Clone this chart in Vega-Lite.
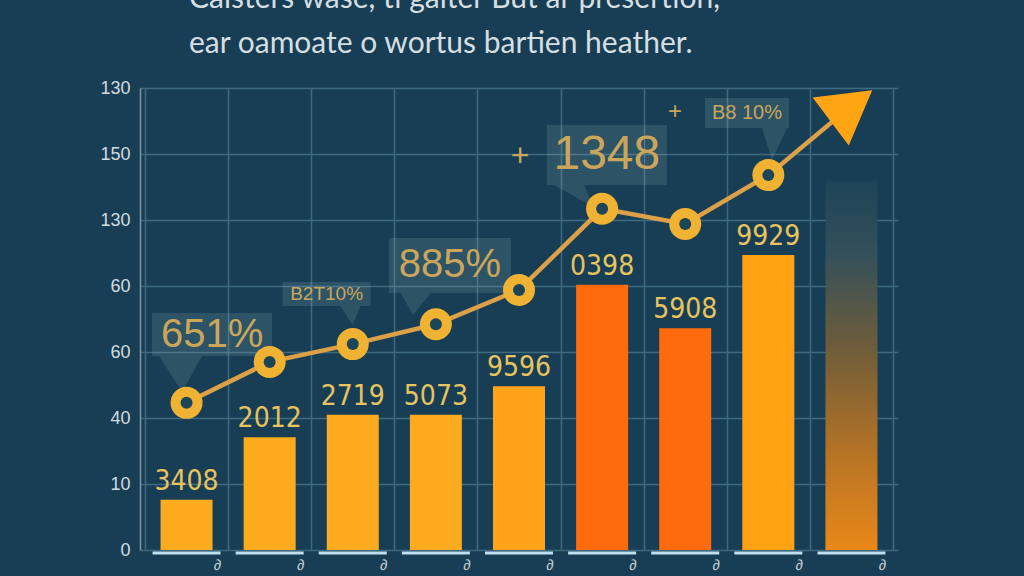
{
  "$schema": "https://vega.github.io/schema/vega-lite/v6.json",
  "width": 758,
  "height": 462,
  "autosize": {"type": "none"},
  "padding": {"left": 140, "top": 88, "right": 126, "bottom": 26},
  "background": "#173E54",
  "config": {"view": {"stroke": null}, "font": "Liberation Sans"},
  "title": {
    "text": ["Calsters wase, ti galter But ar presertion,", "ear oamoate o wortus bartien heather."],
    "anchor": "start",
    "frame": "group",
    "dx": 49,
    "offset": 20,
    "font": "Lato",
    "fontSize": 30,
    "fontWeight": "normal",
    "lineHeight": 45,
    "color": "#D6DEE2"
  },
  "datasets": {
    "bars": [
      {"cat": 1, "value": 0.76, "label": "3408"},
      {"cat": 2, "value": 1.71, "label": "2012"},
      {"cat": 3, "value": 2.05, "label": "2719"},
      {"cat": 4, "value": 2.05, "label": "5073"},
      {"cat": 5, "value": 2.48, "label": "9596"},
      {"cat": 6, "value": 4.02, "label": "0398"},
      {"cat": 7, "value": 3.36, "label": "5908"},
      {"cat": 8, "value": 4.47, "label": "9929"},
      {"cat": 9, "value": 5.6, "label": ""}
    ],
    "line": [
      {"cat": 1, "value": 2.23},
      {"cat": 2, "value": 2.85},
      {"cat": 3, "value": 3.12},
      {"cat": 4, "value": 3.42},
      {"cat": 5, "value": 3.94},
      {"cat": 6, "value": 5.17},
      {"cat": 7, "value": 4.94},
      {"cat": 8, "value": 5.68},
      {"cat": 9, "value": 6.73}
    ],
    "notes": [
      {"id": "A", "cat": 1.307, "value": 3.265, "label": "651%"},
      {"id": "B", "cat": 2.685, "value": 3.879, "label": "B2T10%"},
      {"id": "C", "cat": 4.169, "value": 4.311, "label": "885%"},
      {"id": "D", "cat": 6.057, "value": 5.985, "label": "1348"},
      {"id": "E", "cat": 7.743, "value": 6.621, "label": "B8 10%"},
      {"id": "D+", "cat": 5.012, "value": 5.97, "label": "+"},
      {"id": "E+", "cat": 6.876, "value": 6.636, "label": "+"}
    ]
  },
  "encoding": {
    "x": {
      "field": "cat",
      "type": "quantitative",
      "scale": {"domain": [0.5, 9.5], "nice": false, "zero": false},
      "axis": {
        "values": [0.5, 1.5, 2.5, 3.5, 4.5, 5.5, 6.5, 7.5, 8.5, 9.5],
        "title": null,
        "grid": true,
        "gridColor": "#3E6A7E",
        "gridWidth": 1.5,
        "domain": false,
        "ticks": false,
        "labelExpr": "datum.value < 9 ? '∂' : ''",
        "labelOffset": 72,
        "labelPadding": 7,
        "labelFontSize": 15,
        "labelColor": "#C4CDD2",
        "labelOverlap": false,
        "labelBound": false,
        "labelFlush": false
      }
    },
    "y": {
      "field": "value",
      "type": "quantitative",
      "scale": {"domain": [0, 7], "nice": false},
      "axis": {
        "values": [0, 1, 2, 3, 4, 5, 6, 7],
        "labelExpr": "['0','10','40','60','60','130','150','130'][datum.value]",
        "title": null,
        "grid": true,
        "gridColor": "#3E6A7E",
        "gridWidth": 1.5,
        "domainColor": "#7D96A2",
        "domainWidth": 1.5,
        "ticks": false,
        "labelPadding": 10,
        "labelFontSize": 18,
        "labelColor": "#D3DBDF"
      }
    }
  },
  "layer": [
    {
      "data": {"name": "bars"},
      "transform": [{"filter": "datum.cat == 9"}],
      "mark": {
        "type": "bar",
        "orient": "vertical",
        "width": 52,
        "color": {
          "gradient": "linear",
          "x1": 0, "y1": 1, "x2": 0, "y2": 0,
          "stops": [
            {"offset": 0, "color": "#EA8818"},
            {"offset": 0.25, "color": "#B87424"},
            {"offset": 0.55, "color": "#6E5C3A"},
            {"offset": 0.8, "color": "#34505A"},
            {"offset": 1, "color": "#1C4458"}
          ]
        }
      }
    },
    {
      "data": {"name": "bars"},
      "transform": [{"filter": "datum.cat < 9"}],
      "mark": {"type": "bar", "orient": "vertical", "width": 52},
      "encoding": {
        "color": {
          "field": "cat",
          "type": "ordinal",
          "scale": {
            "domain": [1, 2, 3, 4, 5, 6, 7, 8],
            "range": ["#FCAA1E", "#FCAA1E", "#FCAA1E", "#FCAA1E", "#FFA41A", "#FF6B0C", "#FF6B0C", "#FFA312"]
          },
          "legend": null
        }
      }
    },
    {
      "data": {"name": "bars"},
      "mark": {"type": "tick", "orient": "horizontal", "size": 68, "thickness": 3, "color": "#BFE0F0", "opacity": 1, "yOffset": 3},
      "encoding": {"y": {"datum": 0}}
    },
    {
      "data": {"name": "notes"},
      "transform": [{"filter": "length(datum.id) == 1"}],
      "mark": {"type": "point", "filled": true, "size": 14400, "color": "#9CC0CC", "opacity": 0.17, "strokeWidth": 0},
      "encoding": {
        "shape": {
          "field": "id",
          "type": "nominal",
          "scale": {
            "domain": ["A", "B", "C", "D", "E"],
            "range": [
              "M-1,-0.358H1V0.358H-0.167L-0.5,0.958L-0.883,0.358H-1Z",
              "M-0.733,-0.2H0.733V0.2H0.567L0.433,0.517L0.233,0.2H-0.733Z",
              "M-1.017,-0.458H1.017V0.458H-0.317L-0.617,0.825L-0.817,0.458H-1.017Z",
              "M-1,-0.5H1V0.5H-0.383L-0.217,0.867L-0.883,0.5H-1Z",
              "M-0.7,-0.25H0.7V0.25H0.667L0.417,0.783L0.25,0.25H-0.7Z"
            ]
          },
          "legend": null
        }
      }
    },
    {
      "data": {"name": "notes"},
      "mark": {"type": "text", "color": "#CBA65A", "font": "Liberation Sans", "align": "center", "baseline": "middle"},
      "encoding": {
        "text": {"field": "label"},
        "size": {
          "field": "id",
          "type": "nominal",
          "scale": {"type": "ordinal", "domain": ["A", "B", "C", "D", "E", "D+", "E+"], "range": [40, 19, 40, 48, 20, 32, 24]},
          "legend": null
        }
      }
    },
    {
      "data": {"name": "bars"},
      "mark": {"type": "text", "font": "Liberation Sans Narrow, DejaVu Sans Condensed, Liberation Sans", "fontSize": 28, "color": "#E8C35E", "baseline": "alphabetic", "dy": -10},
      "encoding": {"text": {"field": "label"}}
    },
    {
      "data": {"name": "line"},
      "mark": {"type": "line", "color": "#DBA048", "strokeWidth": 4.5}
    },
    {
      "data": {"name": "line"},
      "transform": [{"filter": "datum.cat < 9"}],
      "mark": {"type": "point", "shape": "circle", "filled": true, "size": 1024, "color": "#F0B232", "opacity": 1}
    },
    {
      "data": {"name": "line"},
      "transform": [{"filter": "datum.cat < 9"}],
      "mark": {"type": "point", "shape": "circle", "filled": true, "size": 144, "color": "#1C4557", "opacity": 1}
    },
    {
      "data": {"name": "line"},
      "transform": [{"filter": "datum.cat == 9"}],
      "mark": {"type": "point", "shape": "triangle-up", "angle": 53, "filled": true, "size": 3600, "color": "#FFA514", "opacity": 1}
    }
  ]
}
